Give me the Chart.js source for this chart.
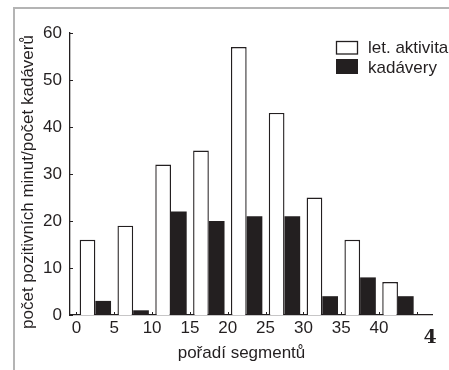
<!DOCTYPE html>
<html><head><meta charset="utf-8">
<script src="https://cdn.jsdelivr.net/npm/chart.js@4"></script>
<style>
html,body{margin:0;padding:0;background:#fff;}
#wrap{position:relative;width:449px;height:370px;overflow:hidden;background:#fff;}
#frame{position:absolute;left:13px;top:7px;width:460px;height:400px;border-top:2px solid #b4b4b4;border-left:2px solid #b4b4b4;}
canvas{position:absolute;left:0;top:0;}
</style></head><body>
<div id="wrap"><div id="frame"></div><canvas id="c" width="449" height="370"></canvas></div>
<script>
const segments = [2.5, 7.5, 12.5, 17.5, 22.5, 27.5, 32.5, 37.5, 42.5];
const letAktivita = [16, 19, 32, 35, 57, 43, 25, 16, 7];
const kadavery = [3, 1, 22, 20, 21, 21, 4, 8, 4];
const xTickValues = [0, 5, 10, 15, 20, 25, 30, 35, 40, 45];
const xTickLabels = ['0', '5', '10', '15', '20', '25', '30', '35', '40', ''];
const yTickValues = [0, 10, 20, 30, 40, 50, 60];
const seriesNames = ['let. aktivita', 'kadávery'];
const xTitle = 'pořadí segmentů';
const yTitle = 'počet pozitivních minut/počet kadáverů';
const panelLabel = '4';

const INK = '#231f20';
const FONT = '"Liberation Sans", Arial, Helvetica, sans-serif';

const decor = {
  id: 'decor',
  afterDraw(chart) {
    const ctx = chart.ctx, xs = chart.scales.x, ys = chart.scales.y, ca = chart.chartArea;
    ctx.save();
    ctx.strokeStyle = INK; ctx.lineWidth = 1;
    xTickValues.forEach(v => {
      const px = Math.round(xs.getPixelForValue(v)) + 0.5;
      ctx.beginPath(); ctx.moveTo(px, ca.bottom); ctx.lineTo(px, ca.bottom - 3); ctx.stroke();
    });
    yTickValues.forEach(v => {
      const py = Math.round(ys.getPixelForValue(v)) + 0.5;
      ctx.beginPath(); ctx.moveTo(ca.left, py); ctx.lineTo(ca.left + 3, py); ctx.stroke();
    });
    ctx.fillStyle = INK;
    ctx.font = '17px ' + FONT;
    ctx.textAlign = 'center'; ctx.textBaseline = 'alphabetic';
    ctx.fillText(xTitle, 241.5, 358);
    ctx.save(); ctx.translate(33, 182); ctx.rotate(-Math.PI / 2); ctx.fillText(yTitle, 0, 0); ctx.restore();
    // legend
    const ds = chart.data.datasets;
    const rows = [53, 73];
    ds.forEach((d, i) => {
      const y = rows[i];
      if (i === 0) {
        ctx.fillStyle = '#fff'; ctx.fillRect(336, 41, 22, 13);
        ctx.lineWidth = 1.3; ctx.strokeStyle = INK; ctx.strokeRect(336.5, 41.5, 21, 12.5);
      } else {
        ctx.fillStyle = INK; ctx.fillRect(336, 59, 22, 15);
      }
      ctx.fillStyle = INK; ctx.textAlign = 'left'; ctx.textBaseline = 'alphabetic';
      ctx.fillText(d.label, 368, y);
    });
    ctx.font = 'bold 19px "DejaVu Serif", "Liberation Serif", serif';
    ctx.textAlign = 'center'; ctx.textBaseline = 'alphabetic';
    ctx.fillText(panelLabel, 430, 343);
    ctx.restore();
  }
};

new Chart(document.getElementById('c'), {
  type: 'bar',
  data: {
    datasets: [
      {
        label: seriesNames[0],
        data: segments.map((x, i) => ({ x: x, y: letAktivita[i] })),
        backgroundColor: '#ffffff', borderColor: INK, borderWidth: 1.4, borderSkipped: 'bottom',
        categoryPercentage: 0.83, barPercentage: 1.0
      },
      {
        label: seriesNames[1],
        data: segments.map((x, i) => ({ x: x, y: kadavery[i] })),
        backgroundColor: INK, borderColor: INK, borderWidth: 0,
        categoryPercentage: 0.83, barPercentage: 1.0
      }
    ]
  },
  options: {
    responsive: false,
    animation: false,
    devicePixelRatio: 1,
    layout: { padding: { left: 0, right: 17, top: 33, bottom: 0 } },
    plugins: { legend: { display: false }, tooltip: { enabled: false } },
    scales: {
      x: {
        type: 'linear', min: -0.85, max: 47, offset: false,
        grid: { display: false, drawTicks: false, offset: false },
        border: { display: true, color: INK, width: 1.3 },
        afterBuildTicks: s => { s.ticks = xTickValues.map(v => ({ value: v })); },
        afterFit: s => { s.height = 55; },
        ticks: {
          autoSkip: false, maxRotation: 0, padding: 3, color: INK,
          font: { family: FONT, size: 17 },
          callback: v => xTickLabels[xTickValues.indexOf(v)]
        }
      },
      y: {
        type: 'linear', min: 0, max: 60,
        grid: { display: false, drawTicks: false },
        border: { display: true, color: INK, width: 1.3 },
        afterBuildTicks: s => { s.ticks = yTickValues.map(v => ({ value: v })); },
        afterFit: s => { s.width = 70; },
        ticks: { padding: 8, color: INK, font: { family: FONT, size: 17 } }
      }
    }
  },
  plugins: [decor]
});
</script>
</body></html>
